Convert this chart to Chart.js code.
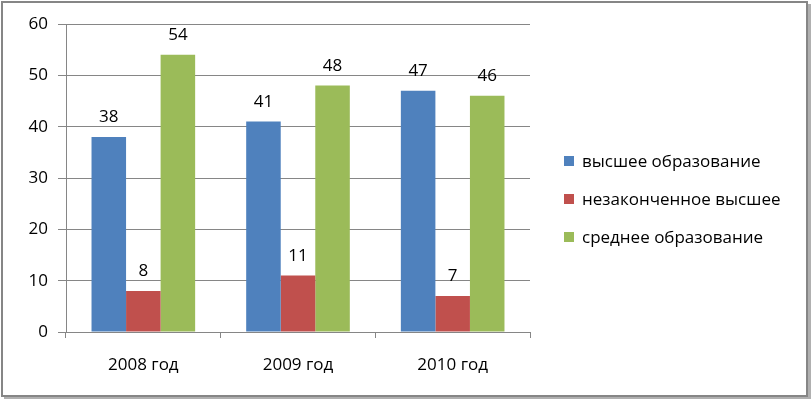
<!DOCTYPE html>
<html>
<head>
<meta charset="utf-8">
<script src="https://cdn.jsdelivr.net/npm/chart.js@4"></script>
<style>
    body { margin: 0; background: #fff; }
    #box {
        position: absolute; left: 1px; top: 1px;
        width: 807px; height: 396px; box-sizing: border-box;
        border: 2px solid #868686;
        box-shadow: 3px 3px 0 #b0b0b0;
        background: #fff;
    }
    #grafico { position: absolute; left: 0; top: 0; }
    .legenda { position: absolute; left: 561px; font-family: "Open Sans", sans-serif; font-size: 17px; color: #000; }
    .legenda span.q { display: inline-block; width: 10px; height: 10px; margin-right: 8px; vertical-align: 1px; }
</style>
</head>
<body>
<div id="box">
    <canvas id="grafico" width="803" height="392"></canvas>
    <div id="legendaArea"></div>
</div>
<script>
// Dados do gráfico
const anos = ['2008 год', '2009 год', '2010 год'];
const series = ['высшее образование', 'незаконченное высшее', 'среднее образование'];
const vysshee = [38, 41, 47];
const nezakonchennoe = [8, 11, 7];
const srednee = [54, 48, 46];
const cores = ['#4F81BD', '#C0504D', '#9BBB59'];

const fonte = '"Open Sans", sans-serif';

// Plugin para escrever os valores acima das barras
const rotulos = {
    id: 'rotulos',
    afterDatasetsDraw(chart) {
        const ctx = chart.ctx;
        ctx.save();
        ctx.font = '17px ' + fonte;
        ctx.fillStyle = '#000';
        ctx.textAlign = 'center';
        ctx.textBaseline = 'bottom';
        chart.data.datasets.forEach((ds, i) => {
            chart.getDatasetMeta(i).data.forEach((bar, j) => {
                ctx.fillText(ds.data[j], bar.x, bar.y - 11);
            });
        });
        ctx.restore();
    }
};

new Chart(document.getElementById('grafico'), {
    type: 'bar',
    data: {
        labels: anos,
        datasets: [
            { label: series[0], data: vysshee, backgroundColor: cores[0] },
            { label: series[1], data: nezakonchennoe, backgroundColor: cores[1] },
            { label: series[2], data: srednee, backgroundColor: cores[2] }
        ]
    },
    options: {
        responsive: false,
        animation: false,
        layout: { padding: { left: 0, right: 276, top: 21, bottom: 0 } },
        plugins: { legend: { display: false }, tooltip: { enabled: false } },
        datasets: { bar: { categoryPercentage: 0.67, barPercentage: 1 } },
        scales: {
            x: {
                afterFit(s) { s.height = 63; },
                grid: { offset: true, drawOnChartArea: false, tickLength: 6, color: '#868686' },
                border: { color: '#868686' },
                ticks: { font: { family: fonte, size: 17 }, color: '#000', padding: 17 }
            },
            y: {
                min: 0, max: 60,
                afterFit(s) { s.width = 63; },
                grid: { color: '#868686', tickLength: 8 },
                border: { color: '#868686' },
                ticks: { stepSize: 10, font: { family: fonte, size: 17 }, color: '#000', padding: 10 }
            }
        }
    },
    plugins: [rotulos]
});

// Legenda em HTML
const legendaArea = document.getElementById('legendaArea');
series.forEach((nome, i) => {
    const item = document.createElement('div');
    item.className = 'legenda';
    item.style.top = (146 + i * 38) + 'px';
    item.innerHTML = `<span class="q" style="background:${cores[i]}"></span>${nome}`;
    legendaArea.appendChild(item);
});
</script>
</body>
</html>
